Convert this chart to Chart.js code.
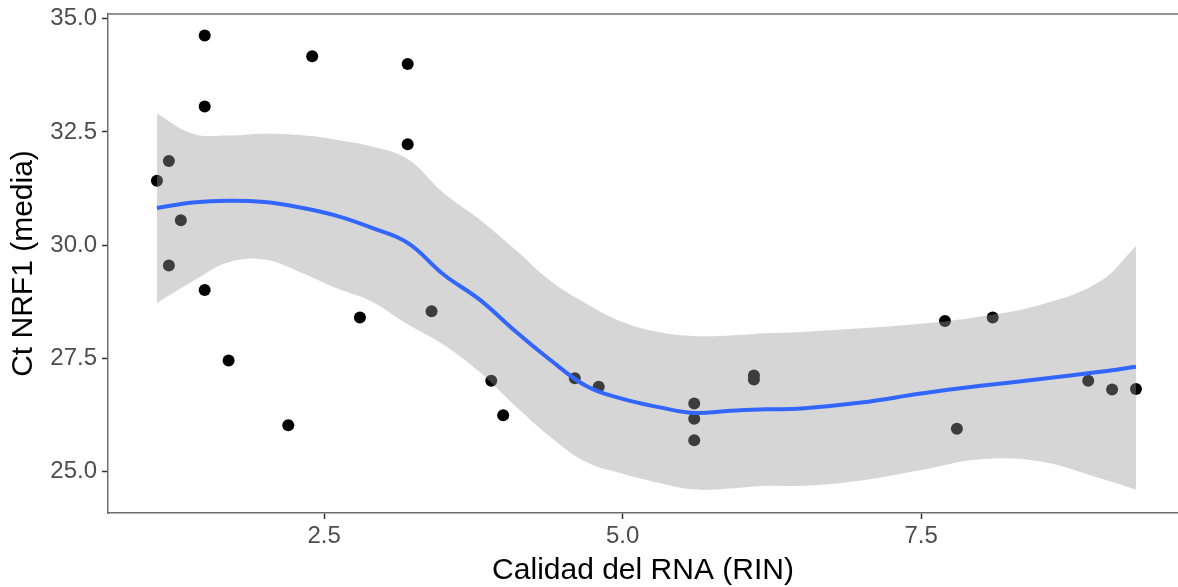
<!DOCTYPE html>
<html>
<head>
<meta charset="utf-8">
<script src="https://cdn.jsdelivr.net/npm/chart.js@4"></script>
<style>
    html, body { margin: 0; padding: 0; background: #ffffff; overflow: hidden; }
    #wrap { width: 1178px; height: 587px; position: relative; }
    #rin-chart { display: block; }
</style>
</head>
<body>
<div id="wrap"><canvas id="rin-chart"></canvas></div>
<script>
// ── Datos: puntos observados ──
const RIN = [1.1, 1.2, 1.2, 1.3, 1.5, 1.5, 1.5, 1.7, 2.2, 2.4, 2.8, 3.2, 3.2, 3.4, 3.9,
             4.0, 4.6, 4.8, 5.6, 5.6, 5.6, 6.1, 6.1, 7.7, 7.8, 8.1, 8.9, 9.1, 9.3];
const CT_NRF1 = [31.42, 31.86, 29.55, 30.55, 34.63, 33.06, 29.01, 27.45, 26.02, 34.17, 28.40, 34.00, 32.23, 28.54, 27.00,
                 26.24, 27.06, 26.87, 26.50, 26.16, 25.69, 27.12, 27.03, 28.32, 25.94, 28.40, 27.00, 26.81, 26.82];

// ── Datos: curva loess y su intervalo ──
const FIT_X = [1.1, 1.4, 1.7, 2.0, 2.3, 2.6, 2.9, 3.2, 3.5, 3.8, 4.1, 4.4, 4.7,
               5.0, 5.3, 5.6, 5.9, 6.2, 6.5, 7.0, 7.5, 8.0, 8.5, 9.0, 9.3];
const FIT_Y = [30.82, 30.94, 30.98, 30.95, 30.83, 30.65, 30.38, 30.05, 29.35, 28.80, 28.10, 27.45, 26.88,
               26.60, 26.42, 26.29, 26.34, 26.37, 26.39, 26.52, 26.72, 26.89, 27.04, 27.20, 27.31];
const UPPER = [32.91, 32.46, 32.42, 32.46, 32.43, 32.33, 32.18, 31.90, 31.15, 30.57, 29.90, 29.20, 28.70,
               28.30, 28.08, 27.99, 28.00, 28.05, 28.08, 28.16, 28.26, 28.42, 28.68, 29.20, 29.98];
const LOWER = [28.72, 29.20, 29.62, 29.68, 29.40, 29.05, 28.75, 28.25, 27.80, 27.20, 26.45, 25.75, 25.20,
               24.95, 24.75, 24.60, 24.62, 24.68, 24.68, 24.80, 25.03, 25.27, 25.22, 24.85, 24.60];

// ── Ejes ──
const X_TICKS = [2.5, 5.0, 7.5];
const Y_TICKS = [25.0, 27.5, 30.0, 32.5, 35.0];

const toXY = (xs, ys) => xs.map((x, i) => ({ x, y: ys[i] }));

const FONT = "'Liberation Sans', Arial, sans-serif";

// marco superior del panel
const topBorder = {
    id: 'topBorder',
    afterDraw(chart) {
        const { ctx, chartArea } = chart;
        ctx.save();
        ctx.strokeStyle = '#6e6e6e';
        ctx.lineWidth = 1.5;
        ctx.beginPath();
        ctx.moveTo(chartArea.left, chartArea.top);
        ctx.lineTo(chartArea.right, chartArea.top);
        ctx.stroke();
        ctx.restore();
    }
};

new Chart(document.getElementById('rin-chart'), {
    type: 'scatter',
    data: {
        datasets: [
            {
                type: 'line',
                label: 'loess',
                data: toXY(FIT_X, FIT_Y),
                borderColor: '#3366ff',
                borderWidth: 4,
                pointRadius: 0,
                tension: 0.4,
                fill: false,
                order: 0,
            },
            {
                type: 'line',
                label: 'sup',
                data: toXY(FIT_X, UPPER),
                borderWidth: 0,
                borderColor: 'rgba(0,0,0,0)',
                backgroundColor: 'rgba(153,153,153,0.4)',
                pointRadius: 0,
                tension: 0.4,
                fill: '+1',
                order: 1,
            },
            {
                type: 'line',
                label: 'inf',
                data: toXY(FIT_X, LOWER),
                borderWidth: 0,
                borderColor: 'rgba(0,0,0,0)',
                pointRadius: 0,
                tension: 0.4,
                fill: false,
                order: 1,
            },
            {
                label: 'Ct',
                data: toXY(RIN, CT_NRF1),
                backgroundColor: '#000000',
                borderWidth: 0,
                pointRadius: 6,
                order: 3,
            },
        ]
    },
    options: {
        responsive: true,
        maintainAspectRatio: false,
        animation: false,
        layout: { autoPadding: false, padding: { top: 14, right: 0, left: 0, bottom: 0 } },
        plugins: {
            legend: { display: false },
            tooltip: { enabled: false },
        },
        scales: {
            x: {
                type: 'linear',
                min: 0.69,
                max: 9.652,
                afterBuildTicks: s => { s.ticks = X_TICKS.map(v => ({ value: v })); },
                afterFit: s => { s.height = 74; s.paddingLeft = 0; s.paddingRight = 0; },
                grid: { drawOnChartArea: false, color: '#333333', tickLength: 6, tickWidth: 1.5 },
                border: { color: '#6e6e6e', width: 1.5 },
                ticks: {
                    color: '#4d4d4d',
                    padding: 3,
                    font: { family: FONT, size: 24 },
                    callback: v => v.toFixed(1),
                },
                title: {
                    display: true,
                    text: 'Calidad del RNA (RIN)',
                    color: '#000000',
                    font: { family: FONT, size: 30 },
                    padding: { top: 0, bottom: -2 },
                },
            },
            y: {
                min: 24.08,
                max: 35.106,
                afterBuildTicks: s => { s.ticks = Y_TICKS.map(v => ({ value: v })); },
                afterFit: s => { s.width = 108; s.paddingTop = 0; s.paddingBottom = 0; },
                grid: { drawOnChartArea: false, color: '#333333', tickLength: 6, tickWidth: 1.5 },
                border: { color: '#6e6e6e', width: 1.5 },
                ticks: {
                    color: '#4d4d4d',
                    padding: 5,
                    font: { family: FONT, size: 24 },
                    callback: v => v.toFixed(1),
                },
                title: {
                    display: true,
                    text: 'Ct NRF1 (media)',
                    color: '#000000',
                    font: { family: FONT, size: 30 },
                    padding: { top: 6, bottom: 0 },
                },
            },
        },
    },
    plugins: [topBorder],
});
</script>
</body>
</html>
